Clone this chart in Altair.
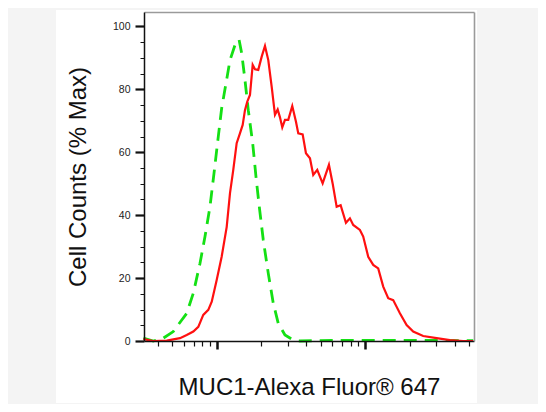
import altair as alt
import pandas as pd

# Intensity (log axis) and % of max
red_x = [32.1, 37.4, 46.1, 56.6, 62.8, 69.6, 75.2, 81.2, 87.8, 92.6, 100, 108, 116.8,
         122.9, 129.3, 136.3, 143.4, 149.6, 155, 160.7, 167.5, 174.7, 181, 190.5, 200.9,
         211.4, 222.5, 234.5, 246.8, 257.4, 266.7, 276.4, 288.2, 303.3, 322.7, 341.8,
         354.2, 379.1, 399, 424.6, 446.8, 475.3, 516.9, 569.8, 603.4, 642.1, 683.1,
         741.8, 788.9, 830.3, 921.1, 969.4, 1047.6, 1132, 1223, 1322, 1428, 1543, 1712,
         1900, 2104, 2456, 3024, 3715, 4566, 5333]
red_y = [0.6, 0.0, 0.1, 0.9, 1.9, 3.0, 4.5, 8.3, 9.9, 12.5, 19.4, 26.8, 36.3,
         47.0, 54.4, 62.9, 66.0, 68.7, 73.4, 76.1, 78.2, 87.8, 86.4, 86.2, 90.4,
         93.8, 89.3, 80.9, 71.9, 73.6, 71.1, 67.9, 70.3, 70.3, 74.7, 69.7,
         66.0, 65.7, 59.7, 58.1, 52.8, 54.4, 50.1, 56.0, 50.1, 42.7, 43.2,
         37.6, 39.0, 36.9, 35.3, 33.2, 26.8, 24.2, 23.1, 17.3, 13.6, 13.0, 8.8,
         5.1, 3.0, 1.6, 0.9, 0.3, 0.0, 0.0]

green_x = [32.1, 37.4, 43.7, 51.0, 62.8, 69.6, 77.2, 83.4, 90.1, 95.9, 102.5, 108,
           115.5, 122.9, 132.8, 141.3, 147.3, 155, 163.2, 174.7, 183.9, 193.5, 205.9,
           222.5, 240.4, 259.8, 288.2, 327.8, 363.7, 600, 1200, 2500, 5333]
green_y = [0.9, 0.0, 0.9, 3.0, 8.8, 15.2, 24.7, 33.2, 42.7, 53.3, 65.0, 74.0,
           81.9, 89.3, 94.1, 95.9, 91.5, 83.0, 73.4, 62.9, 52.2, 42.7, 32.1,
           21.5, 12.0, 5.6, 1.9, 0.3, 0.0, 0.2, 0.2, 0.2, 0.1]

x_ticks = [40, 50, 60, 70, 80, 90, 100, 200, 300, 400, 500, 600, 700, 800, 900,
           1000, 2000, 3000, 4000, 5000]
y_ticks = list(range(0, 101, 5))

x_title = "MUC1-Alexa Fluor® 647"
y_title = "Cell Counts (% Max)"

df_r = pd.DataFrame({"x": red_x, "y": red_y})
df_g = pd.DataFrame({"x": green_x, "y": green_y})

FONT = "Liberation Sans"
xscale = alt.Scale(type="log", domain=[32.4, 5400], nice=False)
yscale = alt.Scale(domain=[0, 104.6], nice=False, zero=False)

x_bottom = alt.Axis(
    values=x_ticks, labels=False, grid=False, zindex=1,
    domainColor="#111", domainWidth=1.5, tickColor="#111",
    tickSize={"condition": {"test": "datum.value === 100 || datum.value === 1000", "value": 8}, "value": 5},
    tickWidth={"condition": {"test": "datum.value === 100 || datum.value === 1000", "value": 2.5}, "value": 1.2},
    title=x_title, titleFont=FONT, titleFontSize=24, titleFontWeight="normal",
    titleColor="#111", titlePadding=25,
)
y_left = alt.Axis(
    values=y_ticks, grid=False, zindex=1,
    domainColor="#111", domainWidth=1.5, tickColor="#111",
    tickSize={"condition": {"test": "datum.value % 20 === 0", "value": 9}, "value": 4},
    tickWidth={"condition": {"test": "datum.value % 20 === 0", "value": 2.2}, "value": 1},
    labelExpr="datum.value % 20 === 0 ? datum.label : ''",
    labelFont=FONT, labelFontSize=10.5, labelColor="#222", labelPadding=5,
    title=y_title, titleFont=FONT, titleFontSize=24, titleFontWeight="normal",
    titleColor="#111", titlePadding=22,
)
x_top = alt.Axis(orient="top", ticks=False, labels=False, grid=False, zindex=1,
                 domainColor="#9a9a9a", domainWidth=1.6, title="")
y_right = alt.Axis(orient="right", ticks=False, labels=False, grid=False, zindex=1,
                   domainColor="#9a9a9a", domainWidth=1.6, title="")

panel = alt.Chart(pd.DataFrame({"a": [0]})).mark_rect(color="white").encode(
    x=alt.value(-88), x2=alt.value(333), y=alt.value(-2), y2=alt.value(391)
)

green = alt.Chart(df_g).mark_line(
    color="#14e014", strokeWidth=2.8, strokeDash=[13, 8]
).encode(
    x=alt.X("x:Q", scale=xscale, axis=x_bottom),
    y=alt.Y("y:Q", scale=yscale, axis=y_left),
)

red = alt.Chart(df_r).mark_line(color="#ff1010", strokeWidth=2.2).encode(
    x=alt.X("x:Q", scale=xscale, axis=x_top),
    y=alt.Y("y:Q", scale=yscale, axis=y_right),
)

chart = alt.layer(panel, green, red).resolve_axis(
    x="independent", y="independent"
).properties(
    width=330, height=329,
    autosize=alt.AutoSizeParams(type="none"),
    padding={"left": 136, "top": 4, "right": 64, "bottom": 63},
    background="#f4f4f4",
).configure_view(strokeWidth=0)

chart.save("out.html", embed_options={"renderer": "svg", "actions": False})
